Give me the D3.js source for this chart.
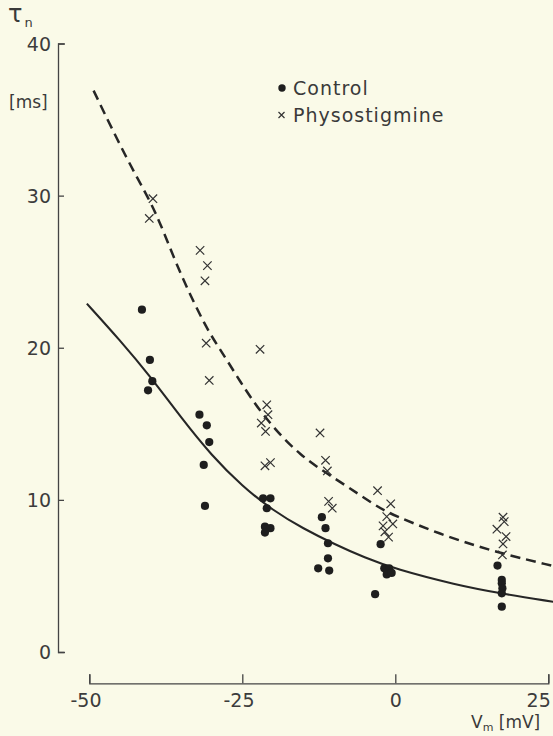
<!DOCTYPE html>
<html>
<head>
<meta charset="utf-8">
<script src="https://cdn.jsdelivr.net/npm/d3@7"></script>
<style>
  html, body { margin: 0; padding: 0; background: #fafae8; }
  svg { display: block; }
  text { font-family: "DejaVu Sans", "Liberation Sans", sans-serif; fill: #3a3a3a; }
</style>
</head>
<body>
<svg id="chart" width="553" height="736"></svg>
<script>
// Membrane potential (mV) and time constant tau_n (ms)
const controlV   = [-41.4, -40.1, -39.7, -40.4, -32.0, -30.8, -30.4, -31.3, -31.1,
                    -21.6, -20.4, -21.0, -21.3, -20.4, -21.3,
                    -12.0, -11.4, -11.0, -11.0, -12.6, -10.8,
                    -2.4, -1.8, -1.0, -1.4, -0.6, -3.3,
                    16.7, 17.4, 17.4, 17.5, 17.4, 17.4];
const controlTau = [22.5, 19.2, 17.8, 17.2, 15.6, 14.9, 13.8, 12.3, 9.6,
                    10.1, 10.1, 9.45, 8.24, 8.14, 7.85,
                    8.86, 8.14, 7.15, 6.16, 5.5, 5.35,
                    7.09, 5.5, 5.5, 5.1, 5.2, 3.8,
                    5.68, 4.74, 4.52, 4.19, 3.86, 2.98];

const physoV   = [-39.6, -40.2, -31.9, -30.7, -31.1, -30.9, -30.4,
                  -22.1, -21.0, -20.8, -21.9, -21.2, -21.3, -20.4,
                  -12.3, -11.4, -11.1, -10.9, -10.3,
                  -2.9, -0.75, -1.4, -0.4, -2.0, -1.7, -1.1,
                  17.6, 17.8, 16.6, 18.1, 17.6, 17.5];
const physoTau = [29.8, 28.5, 26.4, 25.4, 24.4, 20.3, 17.85,
                  19.9, 16.25, 15.6, 15.05, 14.5, 12.24, 12.45,
                  14.4, 12.6, 11.9, 9.9, 9.45,
                  10.6, 9.74, 8.9, 8.42, 8.29, 7.9, 7.55,
                  8.86, 8.57, 8.07, 7.59, 7.1, 6.38];

// Fitted curves
const controlFitV   = [-50.4, -45, -40, -35, -30, -25, -20, -15, -10, -5, 0, 10, 17, 25.8];
const controlFitTau = [22.9, 20.5, 18.1, 15.4, 12.9, 10.9, 9.3, 8.1, 7.1, 6.2, 5.45, 4.4, 3.86, 3.3];

const physoFitV   = [-49.3, -43.9, -40.1, -38.0, -35.2, -30.8, -28.6, -25.4, -21.6, -15.6, -9.0, -3.0, -0.4, 8.9, 17.1, 25.8];
const physoFitTau = [36.9, 32.4, 29.7, 27.8, 24.9, 21.2, 19.9, 17.8, 15.5, 12.85, 11.2, 9.56, 9.0, 7.5, 6.5, 5.65];

const xTicks = [-50, -25, 0, 25];
const yTicks = [0, 10, 20, 30, 40];

const svg = d3.select("#chart");

const x = d3.scaleLinear().domain([-50, 25]).range([89.3, 548.3]);
const y = d3.scaleLinear().domain([0, 40]).range([652, 43.5]);

const ink = "#262626";

// Y axis: inward ticks, labels on the left
const yAxisX = 58;
const yAxis = d3.axisLeft(y)
  .tickValues(yTicks)
  .tickSizeInner(-6)
  .tickSizeOuter(-7)
  .tickPadding(7)
  .tickFormat(d => d);
const gy = svg.append("g").attr("transform", `translate(${yAxisX},0)`).call(yAxis);
gy.selectAll("path, line").attr("stroke", "#444").attr("stroke-width", 1.3);
gy.selectAll("text").style("font-size", "19px").attr("dy", "0.36em")
  .style("fill", "#3c3c3c").style("font-family", "DejaVu Sans, sans-serif");

// X axis: separate line below, upward ticks
const xAxisY = 683.3;
const xAxis = d3.axisBottom(x)
  .tickValues(xTicks)
  .tickSizeInner(-9)
  .tickSizeOuter(-9)
  .tickPadding(10)
  .tickFormat(d => d < 0 ? "-" + Math.abs(d) : String(d));
const gx = svg.append("g").attr("transform", `translate(0,${xAxisY})`).call(xAxis);
gx.selectAll("path, line").attr("stroke", "#444").attr("stroke-width", 1.3);
gx.selectAll("text").style("font-size", "19px")
  .style("fill", "#3c3c3c").style("font-family", "DejaVu Sans, sans-serif")
  .attr("dx", d => d < 0 ? "-0.2em" : 0);
// last label sits inside the right edge
gx.selectAll("text").filter(d => d === 25)
  .attr("text-anchor", "end").attr("dx", 2);

// Axis titles
const tauLabel = svg.append("text").attr("x", 8).attr("y", 22).style("font-size", "24px");
tauLabel.append("tspan").text("τ");
tauLabel.append("tspan").attr("dx", 2).attr("dy", 5).style("font-size", "13px").text("n");
svg.append("text").attr("x", 9).attr("y", 108).style("font-size", "17px").text("[ms]");

const vLabel = svg.append("text").attr("x", 471).attr("y", 728).style("font-size", "17px");
vLabel.append("tspan").text("V");
vLabel.append("tspan").attr("dy", 3).style("font-size", "11px").text("m");
vLabel.append("tspan").attr("dy", -3).text(" [mV]");

// Fit curves
const line = d3.line().x(d => x(d[0])).y(d => y(d[1])).curve(d3.curveBasis);
const controlFit = controlFitV.map((v, i) => [v, controlFitTau[i]]);
const physoFit = physoFitV.map((v, i) => [v, physoFitTau[i]]);

svg.append("path").datum(controlFit).attr("d", line)
  .attr("fill", "none").attr("stroke", ink).attr("stroke-width", 2.1);
svg.append("path").datum(physoFit).attr("d", line)
  .attr("fill", "none").attr("stroke", ink).attr("stroke-width", 2.5)
  .attr("stroke-dasharray", "10,6");

// Control points
svg.append("g").selectAll("circle")
  .data(controlV.map((v, i) => [v, controlTau[i]]))
  .join("circle")
  .attr("cx", d => x(d[0])).attr("cy", d => y(d[1]))
  .attr("r", 4.1).attr("fill", "#1e1e1e");

// Physostigmine points
const cross = "M-4.2,-4.2L4.2,4.2M-4.2,4.2L4.2,-4.2";
svg.append("g").selectAll("path")
  .data(physoV.map((v, i) => [v, physoTau[i]]))
  .join("path")
  .attr("transform", d => `translate(${x(d[0])},${y(d[1])})`)
  .attr("d", cross).attr("fill", "none")
  .attr("stroke", "#333").attr("stroke-width", 1.2);

// Legend
const legend = svg.append("g");
legend.append("circle").attr("cx", 282).attr("cy", 88).attr("r", 3.7).attr("fill", "#1e1e1e");
legend.append("text").attr("x", 293).attr("y", 94.5).style("font-size", "19px")
  .style("letter-spacing", "1px").text("Control");
legend.append("path").attr("transform", "translate(281.5,115)")
  .attr("d", "M-3,-3L3,3M-3,3L3,-3").attr("stroke", "#333").attr("stroke-width", 1.2);
legend.append("text").attr("x", 293).attr("y", 121.5).style("font-size", "19px")
  .style("letter-spacing", "1px").text("Physostigmine");
</script>
</body>
</html>
